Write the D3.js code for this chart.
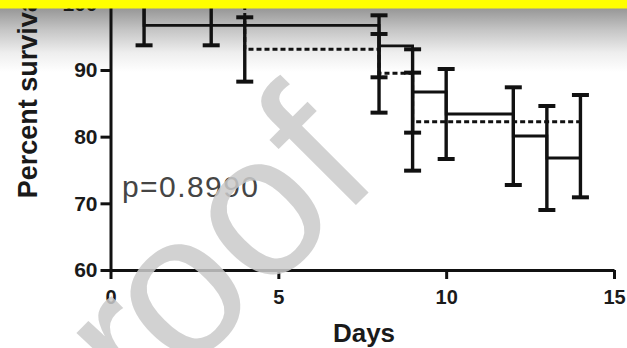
<!DOCTYPE html>
<html>
<head>
<meta charset="utf-8">
<script src="https://cdn.jsdelivr.net/npm/d3@7"></script>
<style>
  html, body { margin: 0; padding: 0; background: #fff; }
  svg { display: block; }
  .axis text { font-family: "Liberation Sans", Arial, sans-serif; font-weight: bold; fill: #1a1a1a; }
</style>
</head>
<body>
<svg id="chart" width="627" height="348"></svg>
<script>
// Kaplan–Meier survival, two groups, with SE bars
const xTicks = [0, 5, 10, 15];
const yTicks = [60, 70, 80, 90, 100];

// group A (solid)
const solidDays = [0, 1, 3, 8, 9, 10, 12, 13, 14];
const solidSurv = [100, 96.7, 96.7, 93.6, 86.7, 83.4, 80.1, 76.8, 76.8];
const solidLow  = [null, 93.7, 93.7, 88.9, 80.6, 76.65, 72.75, 69.0, 70.9];
const solidHigh = [null, 99.7, 99.7, 98.2, 93.1, 90.15, 87.4, 84.6, 86.25];

// group B (dashed)
const dottedDays = [0, 4, 8, 9, 14];
const dottedSurv = [100, 93.1, 89.5, 82.25, 82.25];
const dottedLow  = [null, 88.25, 83.6, 74.9, null];
const dottedHigh = [null, 97.9, 95.4, 89.6, null];

const pLabel = "p=0.8990";
const xTitle = "Days";
const yTitle = "Percent survival";
const watermark = ["P", "r", "o", "o", "f"];

const svg = d3.select("#chart");
const W = 627, H = 348;

const x = d3.scaleLinear().domain([0, 15]).range([110.5, 614]);
const y = d3.scaleLinear().domain([60, 100]).range([270, 3.3]);

// shaded band under the top strip
const defs = svg.append("defs");
const grad = defs.append("linearGradient").attr("id", "topShade")
  .attr("x1", 0).attr("y1", 0).attr("x2", 0).attr("y2", 1);
grad.append("stop").attr("offset", 0).attr("stop-color", "#969696");
grad.append("stop").attr("offset", 0.35).attr("stop-color", "#c6c6c6");
grad.append("stop").attr("offset", 0.7).attr("stop-color", "#eeeeee");
grad.append("stop").attr("offset", 1).attr("stop-color", "#ffffff");
svg.append("rect").attr("x", 0).attr("y", 8).attr("width", W).attr("height", 64)
  .attr("fill", "url(#topShade)");

// axes
const yAxis = svg.append("g").attr("class", "axis")
  .attr("transform", `translate(${x(0)},0)`)
  .call(d3.axisLeft(y).tickValues(yTicks).tickSize(10).tickPadding(3).tickSizeOuter(0));
yAxis.selectAll("text").style("font-size", "21px");

const xAxis = svg.append("g").attr("class", "axis")
  .attr("transform", `translate(0,${y(60)})`)
  .call(d3.axisBottom(x).tickValues(xTicks).tickSize(9).tickPadding(11).tickSizeOuter(0));
xAxis.selectAll("text").style("font-size", "20px");

svg.selectAll(".axis path, .axis line").attr("stroke", "#111").attr("stroke-width", 3);

// axis titles
svg.append("text").attr("class", "axis")
  .attr("transform", `translate(37,${94}) rotate(-90)`)
  .attr("text-anchor", "middle")
  .style("font-family", '"Liberation Sans", Arial, sans-serif')
  .style("font-weight", "bold").style("font-size", "27px").attr("fill", "#1a1a1a")
  .text(yTitle);

svg.append("text")
  .attr("x", 364).attr("y", 342).attr("text-anchor", "middle")
  .style("font-family", '"Liberation Sans", Arial, sans-serif')
  .style("font-weight", "bold").style("font-size", "26px").attr("fill", "#1a1a1a")
  .text(xTitle);

// p value
svg.append("text")
  .attr("x", 122).attr("y", 197)
  .attr("textLength", 136).attr("lengthAdjust", "spacing")
  .style("font-family", '"Liberation Sans", Arial, sans-serif')
  .style("font-size", "30px").attr("fill", "#454545")
  .text(pLabel);

// survival curves
const toPts = (days, surv) => days.map((d, i) => ({ d, s: surv[i] }));
const step = d3.line().x(p => x(p.d)).y(p => y(p.s)).curve(d3.curveStepAfter);

svg.append("path").datum(toPts(dottedDays, dottedSurv))
  .attr("d", step).attr("fill", "none").attr("stroke", "#111")
  .attr("stroke-width", 3).attr("stroke-dasharray", "5,3");

svg.append("path").datum(toPts(solidDays, solidSurv))
  .attr("d", step).attr("fill", "none").attr("stroke", "#111")
  .attr("stroke-width", 2.8);

// error bars
function bars(days, low, high) {
  const data = days.map((d, i) => ({ d, lo: low[i], hi: high[i] })).filter(e => e.lo != null);
  const g = svg.append("g").attr("stroke", "#111");
  g.selectAll("line.v").data(data).join("line").attr("class", "v")
    .attr("x1", e => x(e.d)).attr("x2", e => x(e.d))
    .attr("y1", e => y(e.hi)).attr("y2", e => y(e.lo)).attr("stroke-width", 3.4);
  const caps = data.flatMap(e => [{ d: e.d, v: e.lo }, { d: e.d, v: e.hi }]);
  g.selectAll("line.c").data(caps).join("line").attr("class", "c")
    .attr("x1", c => x(c.d) - 8.5).attr("x2", c => x(c.d) + 8.5)
    .attr("y1", c => y(c.v)).attr("y2", c => y(c.v)).attr("stroke-width", 4);
}
bars(solidDays, solidLow, solidHigh);
bars(dottedDays, dottedLow, dottedHigh);

// watermark, set diagonally across the plot
const wm = svg.append("text")
  .attr("transform", "translate(57,504) rotate(-45)")
  .style("font-family", '"Liberation Sans", Arial, sans-serif')
  .style("font-size", "203px")
  .attr("fill", "#cbcbcb").attr("opacity", 0.85);
const wmShift = [-24, 10, -10, 0, 0];
wm.selectAll("tspan").data(watermark).join("tspan")
  .attr("dx", (c, i) => wmShift[i])
  .text(c => c);

// top strip
svg.append("rect").attr("x", 0).attr("y", 0).attr("width", W).attr("height", 8.5)
  .attr("fill", "#ffff00");
</script>
</body>
</html>
